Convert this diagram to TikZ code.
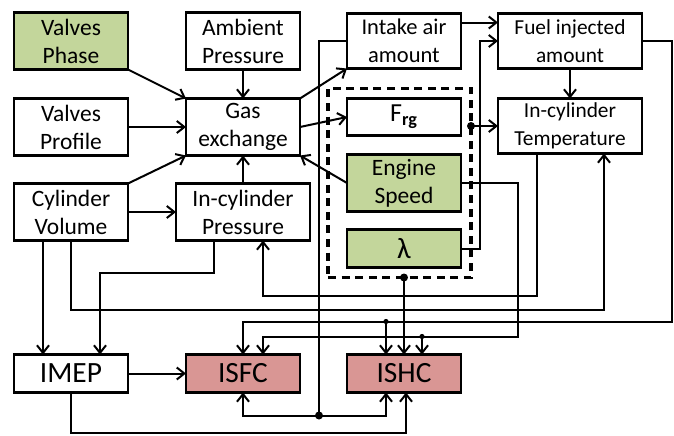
\documentclass[tikz,border=0pt]{standalone}
\usepackage{fontspec}
\setmainfont{Carlito}
\usetikzlibrary{arrows.meta, positioning, calc, fit}
\definecolor{paramgreen}{HTML}{C3D69B}
\definecolor{resultred}{HTML}{D99694}

\begin{document}
\begin{tikzpicture}[node distance=0.7cm, auto,
          block/.style={rectangle, draw=black, line width=0.07cm, fill=white, minimum width=2.85cm, minimum height=1.425cm, inner sep=0pt, outer sep=0pt, align=center, font=\fontsize{16.7}{19.9}\selectfont},
          single/.style={block, minimum height=0.95cm, font=\fontsize{20.9}{22}\selectfont},
          paramfill/.style={fill=paramgreen},
          resultfill/.style={fill=resultred},
          grpbox/.style={draw=black, line width=0.09cm, dash pattern=on 0.2cm off 0.14cm, inner sep=0pt, outer sep=0pt},
          arrow/.style={-{Straight Barb[length=0.19cm, width=0.3cm]}, line width=0.05cm},
          link/.style={line width=0.05cm},
          dot/.style={circle, fill=black, inner sep=0pt, minimum size=0.2cm},
          tinydot/.style={dot, minimum size=0.13cm}]

        \node [block] (gas_exch) {Gas\\exchange};
        \useasboundingbox ($(gas_exch.center)+(-6.075,3.175)$) rectangle ++(16.85,-10.875);
        \node [block, above=0.725cm of gas_exch] (amb_press) {Ambient\\Pressure};
        \node [block, below=0.7cm of gas_exch, minimum width=3.35cm] (cyl_press) {In-cylinder\\Pressure};
        \node [block, left=1.45cm of gas_exch] (valves_prof) {Valves\\Profile};
        \node [block, paramfill, above=0.725cm of valves_prof] (valves_phase) {Valves\\Phase};
        \node [block, below=0.7cm of valves_prof] (cyl_vol) {Cylinder\\Volume};
        \node [block, right=1.175cm of amb_press, minimum height=1.375cm, font=\fontsize{16}{19.9}\selectfont] (intake_air) {Intake air\\amount};
        \node [block, below=0.75cm of intake_air, minimum height=0.925cm, font=\fontsize{18.5}{20}\selectfont] (frg) {F\textsubscript{\bfseries rg}};
        \node [block, paramfill, below=0.475cm of frg] (eng_speed) {Engine\\Speed};
        \node [single, paramfill, below=0.45cm of eng_speed] (lambda) {λ};
        \node [block, right=0.925cm of intake_air, minimum width=3.6cm, minimum height=1.375cm, font=\fontsize{15.2}{19.9}\selectfont] (fuel_inj) {Fuel injected\\amount};
        \node [block, below=0.75cm of fuel_inj, minimum width=3.6cm, minimum height=1.375cm, font=\fontsize{15.2}{19.9}\selectfont] (cyl_temp) {In-cylinder\\Temperature};
        \node [single, below=2.85cm of cyl_vol] (imep) {IMEP};
        \node [single, resultfill, below=2.85cm of cyl_press] (isfc) {ISFC};
        \node [single, resultfill, right=1.175cm of isfc] (ishc) {ISHC};
        \node [grpbox, fit={($(frg.north west)+(-0.475,0.25)$) ($(lambda.south east)+(0.25,-0.25)$)}] (grp) {};

        \draw [arrow] (valves_phase.south east) -- (gas_exch.north west);
        \draw [arrow] (amb_press) -- (gas_exch);
        \draw [arrow] (valves_prof) -- (gas_exch);
        \draw [arrow] (cyl_vol.north east) -- (gas_exch.south west);
        \draw [arrow] (cyl_vol) -- (cyl_press);
        \draw [arrow] (cyl_press) -- (gas_exch);
        \draw [arrow] (gas_exch.north east) -- (intake_air.south west);
        \draw [arrow] (gas_exch.east) -- (frg.west);
        \draw [arrow] (eng_speed.west) -- (gas_exch.south east);
        \draw [arrow] ([yshift=-0.225cm]intake_air.north east) -- ([yshift=-0.225cm]fuel_inj.north west);
        \draw [arrow] (lambda.east) -- ++(0.475,0) |- (fuel_inj.west);
        \draw [arrow] (fuel_inj) -- (cyl_temp);

        \node [dot] (grp_out) at (grp.east |- cyl_temp.west) {};
        \draw [arrow] (grp_out.center) -- (cyl_temp.west);
        \node [dot] (grp_down) at (grp.south -| ishc.north) {};
        \draw [arrow] (grp_down.center) -- (ishc.north);

        \node [dot] (air_split) at ($(intake_air.west |- isfc.south)+(-0.7,-0.575)$) {};
        \draw [link] (intake_air.west) -| (air_split.center);
        \draw [arrow] (air_split.center) -| (isfc.south);
        \draw [arrow] (air_split.center) -| ([xshift=-0.45cm]ishc.south);

        \draw [arrow] (imep) -- (isfc);
        \draw [arrow] (imep.south) -- ++(0,-1.0) -| ([xshift=0.05cm]ishc.south);
        \draw [arrow] ([xshift=-0.7cm]cyl_vol.south) -- ([xshift=-0.7cm]imep.north);
        \draw [arrow] (cyl_vol.south) -- ++(0,-1.725) -| ([xshift=0.85cm]cyl_temp.south);
        \draw [arrow] ([xshift=-0.725cm]cyl_press.south) -- ++(0,-0.8) -| ([xshift=0.725cm]imep.north);
        \draw [arrow] ([xshift=-0.825cm]cyl_temp.south) |- ([xshift=0.5cm, yshift=-1.375cm]cyl_press.south) -- ([xshift=0.5cm]cyl_press.south);

        \node [tinydot] (fuel_split) at ([xshift=-0.45cm, yshift=0.825cm]ishc.north) {};
        \draw [link] (fuel_inj.east) -- ++(0.75,0) |- (fuel_split.center);
        \draw [arrow] (fuel_split.center) -| (isfc.north);
        \draw [arrow] (fuel_split.center) -- ([xshift=-0.45cm]ishc.north);

        \node [tinydot] (speed_split) at ([xshift=0.45cm, yshift=0.45cm]ishc.north) {};
        \draw [link] (eng_speed.east) -- ++(1.425,0) |- (speed_split.center);
        \draw [arrow] (speed_split.center) -| ([xshift=0.5cm]isfc.north);
        \draw [arrow] (speed_split.center) -- ([xshift=0.45cm]ishc.north);
      \end{tikzpicture}
\end{document}
